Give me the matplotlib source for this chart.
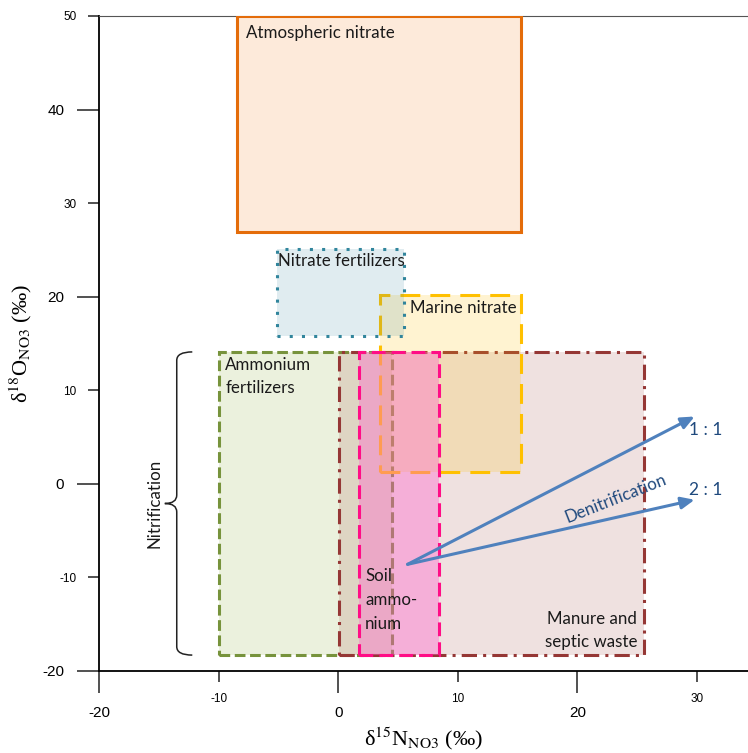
import numpy as np
import matplotlib.pyplot as plt
from matplotlib.patches import Rectangle, PathPatch
from matplotlib.path import Path

# source boxes (delta15N range, delta18O range)
labels = ["Ammonium\nfertilizers", "Manure and\nseptic waste", "Marine nitrate",
          "Soil\nammo-\nnium", "Nitrate fertilizers", "Atmospheric nitrate"]
n_lo = [-10.0, 0.1, 3.5, 1.7, -5.1, -8.5]
n_hi = [4.5, 25.6, 15.3, 8.4, 5.5, 15.3]
o_lo = [-18.3, -18.3, 1.3, -18.3, 15.8, 26.9]
o_hi = [14.1, 14.1, 20.2, 14.1, 25.1, 50.0]

# denitrification trend lines
trend_names = ["1 : 1", "2 : 1"]
trend_start = (5.8, -8.6)
trend_end_n = [29.8, 29.8]
trend_end_o = [7.2, -1.7]

x_major = [-20, 0, 20]
x_minor = [-10, 10, 30]
y_major = [-20, 0, 20, 40]
y_minor = [-10, 10, 30, 50]

edge = ["#77933C", "#953735", "#FFC000", "#FF0D86", "#31859C", "#E46C0A"]
face = ["#9BBB59", "#953735", "#FFC000", "#FF66CC", "#31859C", "#F79646"]
alpha = [0.2, 0.15, 0.18, 0.4, 0.15, 0.2]
styles = [(0, (3.5, 1.5)), (0, (5, 2, 1, 2)), (0, (6.5, 3.3)), (0, (4.5, 2)),
          (0, (1, 3)), "-"]

plt.rcParams['mathtext.fontset'] = 'stix'
fig = plt.figure(figsize=(7.48, 7.53), dpi=100)
ax = fig.add_axes([99 / 748, 82 / 753, 649 / 748, 655 / 753])
ax.set_xlim(-20, 34.26)
ax.set_ylim(-20, 50)

for i in range(len(labels)):
    r = Rectangle((n_lo[i], o_lo[i]), n_hi[i] - n_lo[i], o_hi[i] - o_lo[i],
                  facecolor=face[i], alpha=alpha[i], edgecolor="none", zorder=1 + i)
    ax.add_patch(r)
    r2 = Rectangle((n_lo[i], o_lo[i]), n_hi[i] - n_lo[i], o_hi[i] - o_lo[i],
                   facecolor="none", edgecolor=edge[i], lw=2.2, linestyle=styles[i],
                   zorder=1.5 + i)
    ax.add_patch(r2)

tfont = dict(family="Lato", fontsize=12.2, color="#1a1a1a", zorder=20)
ax.text(-7.7, 48.2, labels[5], va="center", ha="left", **tfont)
ax.text(-5.05, 23.8, labels[4], va="center", ha="left", **tfont)
ax.text(6.0, 18.8, labels[2], va="center", ha="left", **tfont)
ax.text(-9.45, 13.6, labels[0], va="top", ha="left", linespacing=1.6, **tfont)
ax.text(2.25, -9.0, labels[3], va="top", ha="left", linespacing=1.6, **tfont)
ax.text(25.0, -17.8, labels[1], va="bottom", ha="right", multialignment="right",
        linespacing=1.6, **tfont)

# arrows
for i in range(len(trend_names)):
    ax.annotate("", xy=(trend_end_n[i], trend_end_o[i]), xytext=trend_start,
                arrowprops=dict(arrowstyle="-|>,head_length=0.5,head_width=0.22",
                                color="#4F81BD", lw=2.2,
                                mutation_scale=16, shrinkA=0, shrinkB=0), zorder=21)
ax.text(30.75, 5.8, trend_names[0], ha="center", va="center", family="Lato",
        fontsize=12.5, color="#1F497D")
ax.text(30.75, -0.7, trend_names[1], ha="center", va="center", family="Lato",
        fontsize=12.5, color="#1F497D")
ax.text(23.2, -1.6, "Denitrification", ha="center", va="center", rotation=21.5,
        rotation_mode="anchor", family="Lato", fontsize=12.2, color="#1F497D", zorder=22)

# nitrification brace
xl, xt, xc = -13.5, -12.2, -14.5
yt, yb = 14.1, -18.3
ym = (yt + yb) / 2
d = 0.9
verts = [(xt, yt), (xl, yt), (xl, yt - d), (xl, ym + d), (xl, ym), (xc, ym),
         (xl, ym), (xl, ym - d), (xl, yb + d), (xl, yb), (xt, yb)]
codes = [Path.MOVETO, Path.CURVE3, Path.CURVE3, Path.LINETO, Path.CURVE3, Path.CURVE3,
         Path.CURVE3, Path.CURVE3, Path.LINETO, Path.CURVE3, Path.CURVE3]
ax.add_patch(PathPatch(Path(verts, codes), facecolor="none", edgecolor="#222222",
                       lw=1.1, clip_on=False))
ax.text(-15.4, ym, "Nitrification", rotation=90, ha="center", va="center",
        family="Lato", fontsize=12.2, color="#1a1a1a")

# axes styling
ax.spines["right"].set_visible(False)
ax.spines["top"].set_color("#555555")
ax.spines["left"].set_linewidth(1.3)
ax.spines["bottom"].set_linewidth(1.3)
ax.set_xticks(x_major, [str(v) for v in x_major])
ax.set_xticks(x_minor, [str(v) for v in x_minor], minor=True)
ax.set_yticks(y_major, [str(v) for v in y_major])
ax.set_yticks(y_minor, [str(v) for v in y_minor], minor=True)
ax.tick_params(which="major", direction="out", length=16, width=1.2, color="#333333",
               pad=9, labelsize=11)
ax.tick_params(which="minor", direction="out", length=8, width=1.2, color="#333333",
               pad=8, labelsize=8.5)
for lab in ax.get_xticklabels(which="both") + ax.get_yticklabels(which="both"):
    lab.set_family("Liberation Sans")

ax.set_xlabel(r"δ$^{15}$N$_{\mathrm{NO3}}$ (‰)", family="Liberation Serif",
              fontsize=16, labelpad=4)
ax.set_ylabel(r"δ$^{18}$O$_{\mathrm{NO3}}$ (‰)", family="Liberation Serif",
              fontsize=16, labelpad=6)

fig.savefig("out.png", dpi=100)
